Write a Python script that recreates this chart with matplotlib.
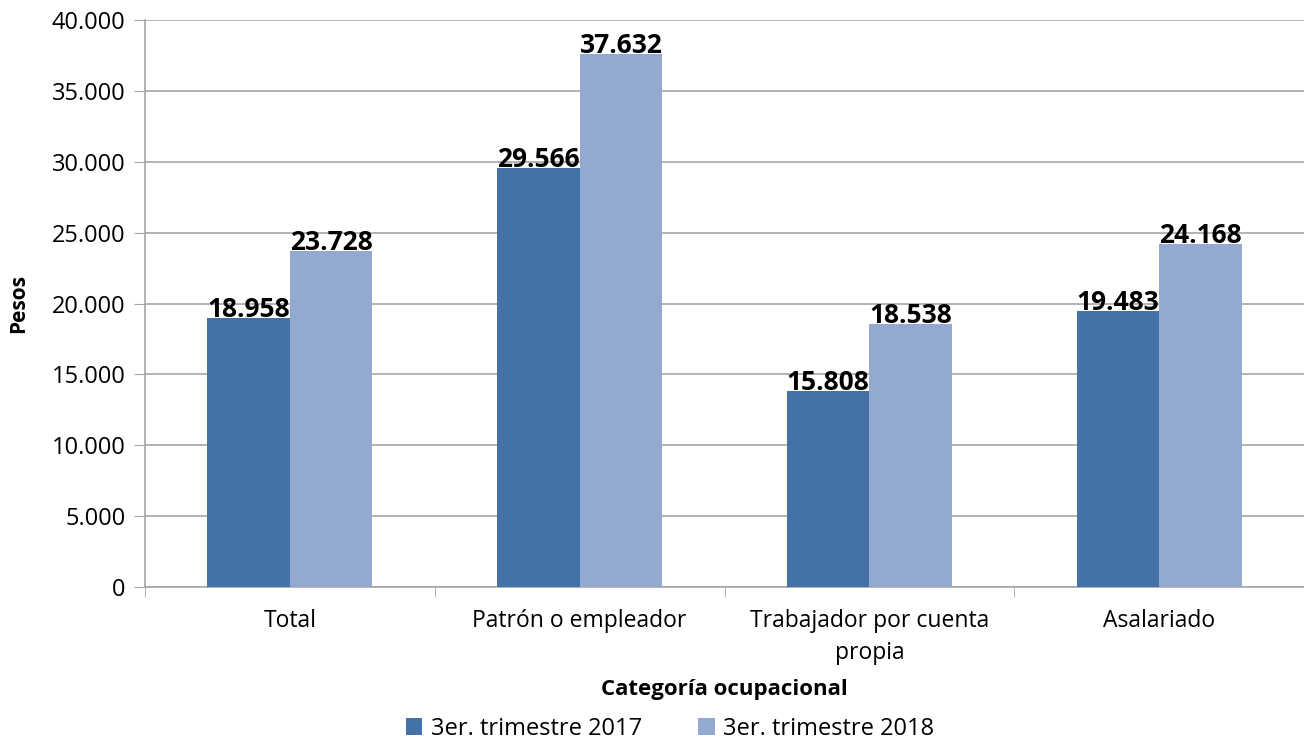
import matplotlib.pyplot as plt
import numpy as np
from matplotlib.ticker import FuncFormatter

categorias = ['Total', 'Patrón o empleador', 'Trabajador por cuenta\npropia', 'Asalariado']
serie_2017 = [18958, 29566, 13808, 19483]   # bar heights as drawn
serie_2018 = [23728, 37632, 18538, 24168]
etiquetas_2017 = ['18.958', '29.566', '15.808', '19.483']
etiquetas_2018 = ['23.728', '37.632', '18.538', '24.168']
leyenda = ['3er. trimestre 2017', '3er. trimestre 2018']

color_2017 = '#4472a8'
color_2018 = '#93a9cf'
gris = '#a6a6a6'

plt.rcParams['font.family'] = ['Open Sans', 'DejaVu Sans']

fig = plt.figure(figsize=(13.04, 7.42), dpi=100)
ax = fig.add_axes([0.1112, 0.2089, 0.8888, 0.7641])

x = np.arange(len(categorias))
ancho = 0.285
b1 = ax.bar(x - ancho / 2, serie_2017, ancho, color=color_2017, label=leyenda[0], zorder=3)
b2 = ax.bar(x + ancho / 2, serie_2018, ancho, color=color_2018, label=leyenda[1], zorder=3)

for barras, etiquetas in ((b1, etiquetas_2017), (b2, etiquetas_2018)):
  for rect, txt in zip(barras, etiquetas):
    ax.text(rect.get_x() + rect.get_width() / 2, rect.get_height() - 350, txt,
            ha='center', va='bottom', fontsize=19, fontweight='bold', zorder=4)

ax.set_xlim(-0.5, len(categorias) - 0.5)
ax.set_ylim(0, 40000)
ax.set_yticks(np.arange(0, 40001, 5000))
ax.yaxis.set_major_formatter(FuncFormatter(lambda v, p: f'{int(v):,}'.replace(',', '.')))
ax.set_xticks(x)
ax.set_xticklabels(categorias, fontsize=16.5, linespacing=1.45)
ax.set_xticks(np.arange(-0.5, len(categorias), 1), minor=True)
ax.tick_params(axis='x', which='major', length=0, pad=16)
ax.tick_params(axis='x', which='minor', length=7, color=gris)
ax.tick_params(axis='y', length=8, color=gris, labelsize=17, pad=6)

ax.grid(axis='y', color=gris, linewidth=1.2, zorder=0)
for s in ('top', 'right'):
  ax.spines[s].set_visible(False)
for s in ('left', 'bottom'):
  ax.spines[s].set_color(gris)
  ax.spines[s].set_linewidth(1.2)

ax.set_ylabel('Pesos', fontsize=15, fontweight='bold', labelpad=16)
ax.set_xlabel('Categoría ocupacional', fontsize=16, fontweight='bold', labelpad=10)
ax.legend(loc='center', bbox_to_anchor=(0.453, -0.25), ncol=2, frameon=False,
          fontsize=17, handlelength=0.7, handleheight=0.7, handletextpad=0.35,
          columnspacing=2.4, borderpad=0)

plt.savefig('out.png')
plt.close()
